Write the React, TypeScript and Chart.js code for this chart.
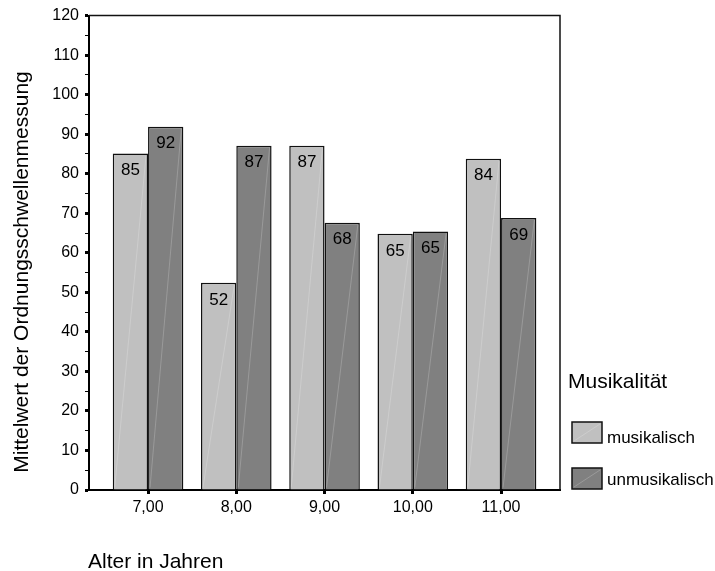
import React, { useEffect, useRef } from "react";
import { Chart, registerables } from "chart.js";

Chart.register(...registerables);

const categories = ["7,00", "8,00", "9,00", "10,00", "11,00"];
const musikalisch = [85.1, 52.4, 87.1, 64.8, 83.8];
const unmusikalisch = [91.9, 87.1, 67.6, 65.4, 68.8];
const seriesNames = ["musikalisch", "unmusikalisch"];
const seriesColors = ["#c0c0c0", "#808080"];
const yTickValues = [0, 5, 10, 15, 20, 25, 30, 35, 40, 45, 50, 55, 60, 65, 70, 75, 80, 85, 90, 95, 100, 105, 110, 115, 120];
const legendTitle = "Musikalität";
const yTitle = "Mittelwert der Ordnungsschwellenmessung";
const xTitle = "Alter in Jahren";

const FONT = "Arial, 'Liberation Sans', sans-serif";
const SHEEN = "rgba(255,255,255,0.2)";

const decorPlugin = {
  id: "decor",
  afterDatasetsDraw(chart: any) {
    const ctx = chart.ctx;
    ctx.save();
    // faint diagonal highlight in each bar
    ctx.strokeStyle = SHEEN;
    ctx.lineWidth = 1;
    chart.data.datasets.forEach((_ds: any, di: number) => {
      const meta = chart.getDatasetMeta(di);
      meta.data.forEach((el: any) => {
        const w = el.width;
        ctx.beginPath();
        ctx.moveTo(el.x - w / 2 + 2, el.base - 2);
        ctx.lineTo(el.x + w / 2 - 2, el.y + 2);
        ctx.stroke();
      });
    });
    ctx.fillStyle = "#000";
    ctx.font = `17px ${FONT}`;
    ctx.textAlign = "center";
    ctx.textBaseline = "middle";
    chart.data.datasets.forEach((ds: any, di: number) => {
      const meta = chart.getDatasetMeta(di);
      meta.data.forEach((el: any, i: number) => {
        const v = ds.data[i].y;
        ctx.fillText(String(Math.round(v)), el.x, el.y + 17);
      });
    });
    ctx.restore();
  },
  afterDraw(chart: any) {
    const ctx = chart.ctx;
    const a = chart.chartArea;
    ctx.save();
    // frame top & right
    ctx.strokeStyle = "#111";
    ctx.lineWidth = 1.5;
    ctx.beginPath();
    ctx.moveTo(a.left, a.top);
    ctx.lineTo(a.right, a.top);
    ctx.lineTo(a.right, a.bottom);
    ctx.stroke();

    // y title
    ctx.fillStyle = "#000";
    ctx.font = `21px ${FONT}`;
    ctx.textAlign = "center";
    ctx.textBaseline = "middle";
    ctx.save();
    ctx.translate(22, 272);
    ctx.rotate(-Math.PI / 2);
    ctx.fillText(yTitle, 0, 0);
    ctx.restore();

    // x title
    ctx.textAlign = "left";
    ctx.textBaseline = "alphabetic";
    ctx.fillText(xTitle, 88, 568);

    // legend
    ctx.font = `21px ${FONT}`;
    ctx.fillText(legendTitle, 568, 388);
    const boxTops = [422, 468];
    const baselines = [443, 485];
    ctx.font = `17px ${FONT}`;
    seriesNames.forEach((name, i) => {
      ctx.fillStyle = seriesColors[i];
      ctx.fillRect(572, boxTops[i], 30, 21);
      ctx.strokeStyle = SHEEN;
      ctx.lineWidth = 1;
      ctx.beginPath();
      ctx.moveTo(574, boxTops[i] + 19);
      ctx.lineTo(600, boxTops[i] + 2);
      ctx.stroke();
      ctx.strokeStyle = "#111";
      ctx.lineWidth = 1.5;
      ctx.strokeRect(572, boxTops[i], 30, 21);
      ctx.fillStyle = "#000";
      ctx.fillText(name, 607, baselines[i]);
    });
    ctx.restore();
  },
};

export default function App() {
  const ref = useRef<HTMLCanvasElement | null>(null);
  useEffect(() => {
    if (!ref.current) return;
    const chart = new Chart(ref.current, {
      type: "bar",
      data: {
        datasets: [
          {
            label: seriesNames[0],
            data: musikalisch.map((v, i) => ({ x: i, y: v })),
            backgroundColor: seriesColors[0],
            borderColor: "#111",
            borderWidth: 1.5,
            categoryPercentage: 0.8,
            barPercentage: 1,
          },
          {
            label: seriesNames[1],
            data: unmusikalisch.map((v, i) => ({ x: i, y: v })),
            backgroundColor: seriesColors[1],
            borderColor: "#111",
            borderWidth: 1.5,
            categoryPercentage: 0.8,
            barPercentage: 1,
          },
        ],
      } as any,
      options: {
        responsive: false,
        animation: false,
        devicePixelRatio: 1,
        layout: { padding: { top: 15, right: 155, bottom: 0, left: 0 } },
        plugins: { legend: { display: false }, tooltip: { enabled: false } },
        scales: {
          x: {
            type: "linear",
            min: -0.669,
            max: 4.668,
            offset: false,
            afterBuildTicks: (s: any) => {
              s.ticks = categories.map((_, i) => ({ value: i }));
            },
            afterFit: (s: any) => {
              s.height = 81;
            },
            ticks: {
              callback: (_v: any, i: number) => categories[i] ?? "",
              font: { size: 16, family: FONT },
              color: "#000",
              padding: 4,
              maxRotation: 0,
              autoSkip: false,
            },
            grid: {
              offset: false,
              drawOnChartArea: false,
              drawTicks: true,
              tickLength: 4,
              tickWidth: 3,
              tickColor: "#000",
            },
            border: { color: "#000", width: 2 },
          },
          y: {
            min: 0,
            max: 120,
            afterBuildTicks: (s: any) => {
              s.ticks = yTickValues.map((v) => ({ value: v }));
            },
            afterFit: (s: any) => {
              s.width = 89;
            },
            ticks: {
              callback: (v: any) => (Number(v) % 10 === 0 ? String(v) : ""),
              font: { size: 16, family: FONT },
              color: "#000",
              padding: 6,
              autoSkip: false,
            },
            grid: {
              drawOnChartArea: false,
              tickLength: 4,
              tickWidth: (c: any) => (c.tick && c.tick.value % 10 === 0 ? 3 : 1),
              tickColor: "#000",
            },
            border: { color: "#000", width: 2 },
          },
        },
      } as any,
      plugins: [decorPlugin],
    });
    return () => chart.destroy();
  }, []);
  return (
    <div style={{ position: "fixed", left: 0, top: 0, width: 715, height: 571, background: "#fff" }}>
      <canvas ref={ref} width={715} height={571} style={{ display: "block" }} />
    </div>
  );
}
